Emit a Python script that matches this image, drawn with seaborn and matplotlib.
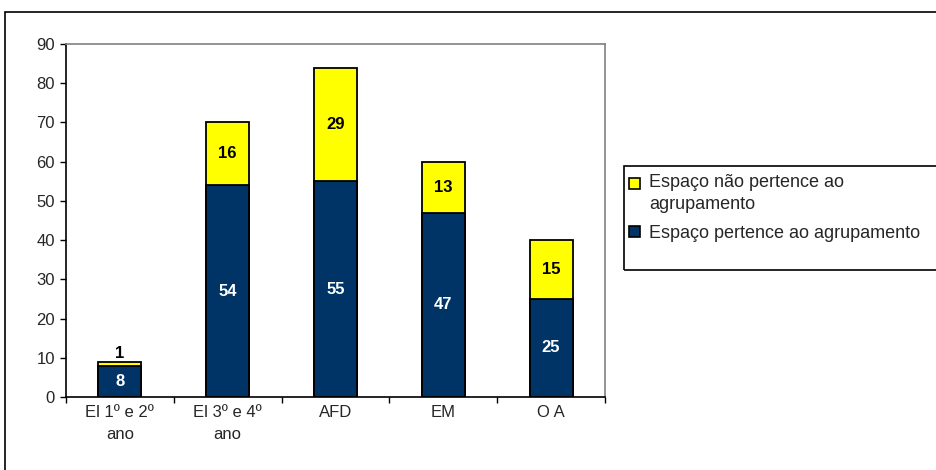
import matplotlib
matplotlib.use("Agg")
import matplotlib.pyplot as plt
from matplotlib.patches import Patch, Rectangle
from matplotlib.legend_handler import HandlerPatch
from matplotlib.ticker import FixedLocator
import seaborn as sns
import pandas as pd

# Data
categories = ["El 1º e 2º\nano", "El 3º e 4º\nano", "AFD", "EM", "O A"]
pertence = [8, 54, 55, 47, 25]
nao_pertence = [1, 16, 29, 13, 15]
y_ticks = [0, 10, 20, 30, 40, 50, 60, 70, 80, 90]
label_pertence = "Espaço pertence ao agrupamento"
label_nao = "Espaço não pertence ao\nagrupamento"

NAVY = "#003366"
YELLOW = "#FFFF00"

sns.set_theme(style="white")
plt.rcParams["font.family"] = ["Liberation Sans", "DejaVu Sans"]

df = pd.DataFrame({
    "cat": categories,
    "pertence": pertence,
    "nao": nao_pertence,
})
df["total"] = df["pertence"] + df["nao"]

fig = plt.figure(figsize=(9.37, 4.70), dpi=100)
ax = fig.add_axes([66 / 937, 1 - 397 / 470, (605 - 66) / 937, (397 - 44) / 470])

# Stacked bars: full height in yellow, lower part in navy on top
sns.barplot(data=df, x="cat", y="total", color=YELLOW, saturation=1, width=0.4,
            edgecolor="black", linewidth=1.3, ax=ax)
sns.barplot(data=df, x="cat", y="pertence", color=NAVY, saturation=1, width=0.4,
            edgecolor="black", linewidth=1.3, ax=ax)

# Value labels
for i, (p, n) in enumerate(zip(pertence, nao_pertence)):
    ax.text(i, p / 2, str(p), ha="center", va="center", color="white",
            fontsize=12, fontweight="bold")
    if n >= 4:
        ax.text(i, p + n / 2, str(n), ha="center", va="center", color="black",
                fontsize=12, fontweight="bold")
    else:
        ax.text(i, p + n + 0.3, str(n), ha="center", va="bottom", color="black",
                fontsize=12, fontweight="bold")

ax.set_xlim(-0.5, len(categories) - 0.5)
ax.set_ylim(0, 90)
ax.set_yticks(y_ticks)
ax.set_xlabel("")
ax.set_ylabel("")
ax.set_xticks(range(len(categories)))
ax.set_xticklabels(categories, fontsize=12, linespacing=1.55)
ax.xaxis.set_minor_locator(FixedLocator([i - 0.5 for i in range(len(categories) + 1)]))
ax.tick_params(axis="x", which="major", length=0, pad=6)
ax.tick_params(axis="x", which="minor", length=4, width=1, direction="out",
               color="black", bottom=True)
ax.tick_params(axis="y", length=4, width=1, direction="out", color="black",
               labelsize=12, pad=4, left=True)

for side in ["top", "right"]:
    ax.spines[side].set_color("#808080")
    ax.spines[side].set_linewidth(1.2)
for side in ["left", "bottom"]:
    ax.spines[side].set_color("black")
    ax.spines[side].set_linewidth(1.2)

# Outer chart frame
fig.patches.append(Rectangle((5 / 937, -0.2), 1.2, 0.2 + (470 - 12) / 470,
                             transform=fig.transFigure, fill=False,
                             edgecolor="black", linewidth=1.2))

# Legend box and entries
fig.patches.append(Rectangle((624 / 937, (470 - 270) / 470), 1.0,
                             (270 - 166) / 470, transform=fig.transFigure,
                             fill=False, edgecolor="black", linewidth=1.2))


def top_line_square(legend, orig_handle, xdescent, ydescent, width, height, fontsize):
    # Square aligned with the first line of a two-line label
    return Rectangle((-xdescent, -ydescent + 7.5), width, height)


handles = [Patch(facecolor=YELLOW, edgecolor="black", linewidth=1.2),
           Patch(facecolor=NAVY, edgecolor="black", linewidth=1.2)]
leg = fig.legend(handles, [label_nao, label_pertence], loc="upper left",
                 bbox_to_anchor=(629 / 937, (470 - 174) / 470),
                 bbox_transform=fig.transFigure, frameon=False, fontsize=13,
                 handlelength=0.6, handleheight=0.6, handletextpad=0.5,
                 borderpad=0, borderaxespad=0, labelspacing=0.65,
                 handler_map={handles[0]: HandlerPatch(patch_func=top_line_square)})
for t in leg.get_texts():
    t.set_linespacing(1.4)

fig.savefig("out.png", dpi=100)
